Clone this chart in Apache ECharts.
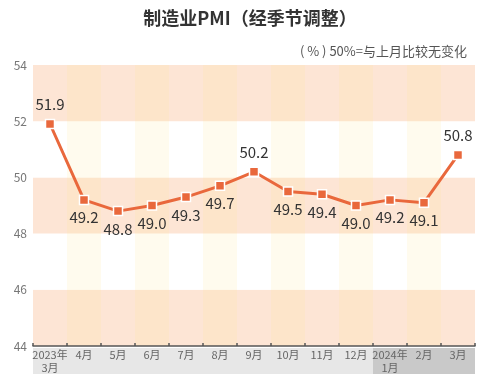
<!DOCTYPE html>
<html>
<head>
<meta charset="utf-8">
<script src="https://cdn.jsdelivr.net/npm/echarts@6/dist/echarts.min.js"></script>
<style>html,body{margin:0;padding:0;background:#fff}#c{width:500px;height:374px}</style>
</head>
<body>
<div id="c"></div>
<script>
var categories = ['2023年\n3月','4月','5月','6月','7月','8月','9月','10月','11月','12月','2024年\n1月','2月','3月'];
var pmiValues = [51.9, 49.2, 48.8, 49.0, 49.3, 49.7, 50.2, 49.5, 49.4, 49.0, 49.2, 49.1, 50.8];
var labelAbove = [true, false, false, false, false, false, true, false, false, false, false, false, true];
var yTicks = [44, 46, 48, 50, 52, 54];

var chart = echarts.init(document.getElementById('c'), null, {renderer: 'canvas'});
var font = '"Noto Sans CJK SC", "Noto Sans", sans-serif';

var seriesData = pmiValues.map(function (v, i) {
  return {
    value: v,
    label: {
      position: labelAbove[i] ? 'top' : 'bottom',
      distance: labelAbove[i] ? 7 : 5
    }
  };
});

chart.setOption({
  animation: false,
  textStyle: {fontFamily: font},
  title: [{
    text: '制造业PMI（经季节调整）',
    left: 'center',
    top: 4,
    textStyle: {fontSize: 18, fontWeight: 'bold', color: '#333', fontFamily: font}
  }, {
    text: '( % ) 50%=与上月比较无变化',
    right: 28,
    top: 40,
    textStyle: {fontSize: 13, fontWeight: 'normal', color: '#555', fontFamily: font}
  }],
  grid: {left: 33, right: 25, top: 65, bottom: 22, containLabel: false},
  xAxis: {
    type: 'category',
    data: categories,
    boundaryGap: true,
    axisLine: {lineStyle: {color: '#555', width: 1.5}},
    axisTick: {show: true, inside: true, length: 3, lineStyle: {color: '#555', width: 1.5}},
    splitArea: {show: true, areaStyle: {color: ['rgba(255,255,255,0)', 'rgba(255,225,140,0.15)']}},
    axisLabel: {
      margin: 2,
      interval: 0,
      formatter: function (value, idx) {
        var k = idx >= 10 ? 'd' : 'l';
        var lines = value.split('\n');
        if (lines.length < 2) lines.push(' ');
        return lines.map(function (s) { return '{' + k + '|' + s + '}'; }).join('\n');
      },
      rich: {
        l: {width: 34, height: 13, lineHeight: 13, align: 'center', backgroundColor: '#e7e7e7', color: '#666', fontSize: 11, fontFamily: font},
        d: {width: 34, height: 13, lineHeight: 13, align: 'center', backgroundColor: '#c9c9c9', color: '#666', fontSize: 11, fontFamily: font}
      }
    }
  },
  yAxis: {
    type: 'value',
    min: yTicks[0],
    max: yTicks[yTicks.length - 1],
    interval: 2,
    axisLine: {show: false},
    axisTick: {show: false},
    splitLine: {show: false},
    splitArea: {show: true, areaStyle: {color: ['#fde5d5', '#ffffff']}},
    axisLabel: {color: '#777', fontSize: 12, margin: 6, fontFamily: font}
  },
  series: [{
    type: 'line',
    data: seriesData,
    symbol: 'rect',
    symbolSize: 9,
    lineStyle: {color: '#e9683c', width: 3},
    itemStyle: {color: '#e9683c', borderColor: '#fff', borderWidth: 1.5},
    label: {
      show: true,
      fontSize: 15,
      color: '#333',
      fontFamily: font,
      formatter: function (p) { return p.value.toFixed(1); }
    }
  }]
});
</script>
</body>
</html>
